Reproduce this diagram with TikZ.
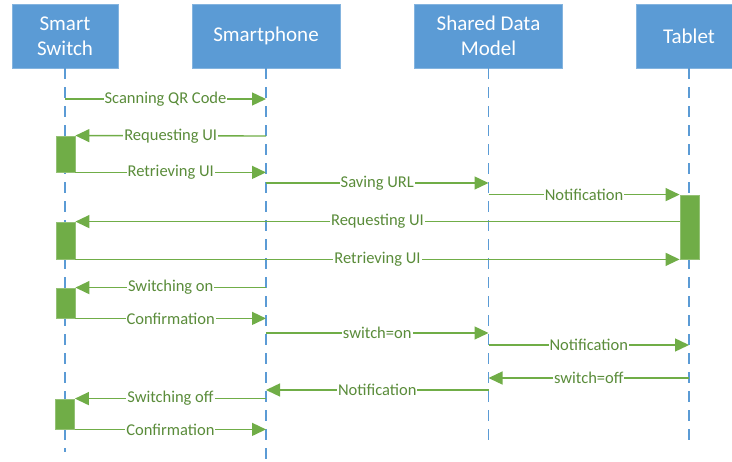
\documentclass[tikz,border=0pt]{standalone}
\usepackage{fontspec}
\setmainfont{Carlito}
\usetikzlibrary{arrows.meta}
\definecolor{boxblue}{HTML}{5B9BD5}
\definecolor{msggreen}{HTML}{70AD47}
\definecolor{txtgreen}{HTML}{5A8C3A}
\tikzset{
	actor/.style={draw=boxblue!75!white, fill=boxblue, text=white, minimum height=64pt, align=center, inner sep=0pt, font=\fontsize{21}{25}\selectfont},
	lifeline/.style={draw=boxblue, line width=1.3pt, dash pattern=on 11pt off 8pt},
	active/.style={draw=msggreen!75!white, fill=msggreen, minimum width=19pt, inner sep=0pt, line width=0.8pt},
	msg/.style={draw=msggreen, line width=1.4pt, -{Triangle[length=14pt, width=13pt]}},
	lbl/.style={fill=white, text=txtgreen, inner sep=1pt, font=\fontsize{16.5}{18}\selectfont}
}
\begin{document}
\begin{tikzpicture}[x=1pt, y=-1pt]
		\useasboundingbox (0,0) rectangle (732,462);

		\node(sw)[actor, minimum width=106pt] at (65,36){Smart\\Switch};
		\node(phone)[actor, minimum width=148pt] at (266,36){Smartphone};
		\node(model)[actor, minimum width=148pt] at (488.5,36){Shared Data\\Model};
		\node(tab)[actor, minimum width=106pt] at (689,36){Tablet};

		\coordinate(swend) at (65,452);
		\coordinate(phoneend) at (266,460);
		\coordinate(modelend) at (488.5,443);
		\coordinate(tabend) at (689,443);

		\draw[lifeline] (sw.south) -- (swend);
		\draw[lifeline] (phone.south) -- (phoneend);
		\draw[lifeline] (model.south) -- (modelend);
		\draw[lifeline] (tab.south) -- (tabend);

		\node(act1)[active, minimum height=36pt] at (65.5,154){};
		\node(act2)[active, minimum height=37pt] at (65.5,240.5){};
		\node(act3)[active, minimum height=30pt] at (65.5,303){};
		\node(act4)[active, minimum height=30pt] at (65,414){};
		\node(tact)[active, minimum height=64pt] at (689.5,227){};

		\draw[msg] (sw |- 0,99) -- node[lbl]{Scanning QR Code} (phone |- 0,99);
		\draw[msg] (phone |- 0,136) -- node[lbl]{Requesting UI} (act1.north east);
		\draw[msg] (act1.south east) -- node[lbl]{Retrieving UI} (phone |- act1.south);
		\draw[msg] (phone |- 0,183) -- node[lbl]{Saving URL} (model |- 0,183);
		\draw[msg] (model |- tact.north) -- node[lbl]{Notification} (tact.north west);
		\draw[msg] (tact.west |- act2.north) -- node[lbl]{Requesting UI} (act2.north east);
		\draw[msg] (act2.south east) -- node[lbl]{Retrieving UI} (tact.south west);
		\draw[msg] (phone |- act3.north) -- node[lbl]{Switching on} (act3.north east);
		\draw[msg] (act3.south east) -- node[lbl]{Confirmation} (phone |- act3.south);
		\draw[msg] (phone |- 0,333) -- node[lbl]{switch=on} (model |- 0,333);
		\draw[msg] (model |- 0,345) -- node[lbl]{Notification} (tab |- 0,345);
		\draw[msg] (tab |- 0,378) -- node[lbl]{switch=off} (model |- 0,378);
		\draw[msg] (model |- 0,390) -- node[lbl]{Notification} (phone |- 0,390);
		\draw[msg] (phone |- act4.north) -- node[lbl]{Switching off} (act4.north east);
		\draw[msg] (act4.south east) -- node[lbl]{Confirmation} (phone |- act4.south);
	\end{tikzpicture}
\end{document}
